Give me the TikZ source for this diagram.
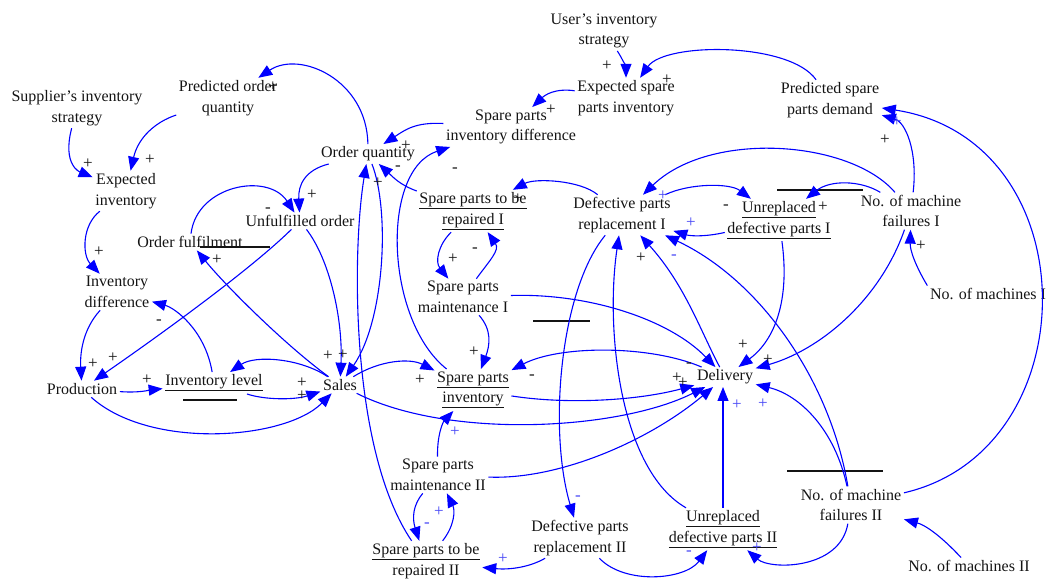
\documentclass[tikz,border=0pt]{standalone}
\usepackage{fontspec}
\setmainfont{Liberation Serif}
\usetikzlibrary{arrows.meta}
\definecolor{arrblue}{RGB}{0,0,255}
\definecolor{polblue}{RGB}{70,70,245}
\definecolor{txt}{RGB}{20,20,20}
\newcommand\cldfont{\fontsize{16}{20.5}\selectfont}
\newcommand\polfont{\fontsize{17}{17}\selectfont}

\begin{document}
\begin{tikzpicture}[x=1pt,y=-1pt,
  cvar/.style={font=\cldfont,text=txt,align=center,inner sep=2.5pt},
  arr/.style={draw=arrblue,line width=1.1pt,-{Triangle[length=14pt,width=11pt]}},
  polk/.style={font=\polfont,text=txt,inner sep=0pt},
  polbl/.style={polk,text=polblue},
  stockbar/.style={line width=2.4pt,draw=txt}]
\useasboundingbox (0,0) rectangle (1046,579);

% variables
\node[cvar] (usr)   at (604,31)  {User’s inventory\\strategy};
\node[cvar] (esi)   at (626,98)  {Expected spare\\parts inventory};
\node[cvar] (psd)   at (830,100) {Predicted spare\\parts demand};
\node[cvar] (sis)   at (77,108)  {Supplier’s inventory\\strategy};
\node[cvar] (poq)   at (228,98)  {Predicted order\\quantity};
\node[cvar] (spid)  at (511,127) {Spare parts\\inventory difference};
\node[cvar] (oq)    at (368,154) {Order quantity};
\node[cvar] (ei)    at (126,191) {Expected\\inventory};
\node[cvar] (uo)    at (300,221) {Unfulfilled order};
\node[cvar] (of)    at (190,242) {Order fulfilment};
\node[cvar] (sprI)  at (473,211) {\underline{Spare parts to be}\\\underline{repaired I}};
\node[cvar] (dprI)  at (622,215) {Defective parts\\replacement I};
\node[cvar] (udpI)  at (779,220) {\underline{Unreplaced}\\\underline{defective parts I}};
\node[cvar] (nmfI)  at (911,211) {No. of machine\\failures I};
\node[cvar] (nmI)   at (988,294) {No. of machines I};
\node[cvar] (idf)   at (117,292) {Inventory\\difference};
\node[cvar] (spmI)  at (463,297) {Spare parts\\maintenance I};
\node[cvar] (prod)  at (82,389)  {Production};
\node[cvar] (il)    at (214,383) {\underline{Inventory level}};
\node[cvar] (sales) at (340,385) {Sales};
\node[cvar] (spi)   at (473,390) {\underline{Spare parts}\\\underline{inventory}};
\node[cvar] (del)   at (725,377) {Delivery};
\node[cvar] (spmII) at (438,475) {Spare parts\\maintenance II};
\node[cvar] (nmfII) at (851,505) {No. of machine\\failures II};
\node[cvar] (sprII) at (426,562) {\underline{Spare parts to be}\\\underline{repaired II}};
\node[cvar] (dprII) at (580,538) {Defective parts\\replacement II};
\node[cvar] (udpII) at (723,529) {\underline{Unreplaced}\\\underline{defective parts II}};
\node[cvar] (nmII)  at (969,566) {No. of machines II};

% stock bars
\draw[stockbar] (200,247) -- (270,247);
\draw[stockbar] (183,400) -- (237,400);
\draw[stockbar] (533,321) -- (590,321);
\draw[stockbar] (777,190) -- (863,190);
\draw[stockbar] (787,471) -- (883,471);

% causal links
\draw[arr] (usr) .. controls (622,58) and (626,68) .. (esi);
\draw[arr] (psd) .. controls (790,42) and (665,42) .. (esi);
\draw[arr] (esi) .. controls (555,88) and (545,95) .. (spid);
\draw[arr] (spid) .. controls (415,122) and (405,130) .. (oq);
\draw[arr] (oq) .. controls (367,80) and (300,50) .. (poq);
\draw[arr] (poq) .. controls (155,122) and (138,138) .. (ei);
\draw[arr] (sis) .. controls (62,165) and (80,172) .. (ei);
\draw[arr] (oq) .. controls (305,170) and (298,185) .. (uo);
\draw[arr] (of) .. controls (197,185) and (268,172) .. (uo);
\draw[arr] (ei) .. controls (82,225) and (82,255) .. (idf);
\draw[arr] (uo) .. controls (250,270) and (160,335) .. (prod);
\draw[arr] (uo) .. controls (330,260) and (343,320) .. (sales);
\draw[arr] (oq) .. controls (390,210) and (385,320) .. (sales);
\draw[arr] (sprII) .. controls (350,450) and (352,250) .. (oq);
\draw[arr] (sales) .. controls (285,345) and (225,285) .. (of);
\draw[arr] (il) .. controls (205,330) and (175,308) .. (idf);
\draw[arr] (idf) .. controls (82,330) and (80,355) .. (prod);
\draw[arr] (prod) .. controls (140,393) and (150,390) .. (il);
\draw[arr] (sales) .. controls (300,358) and (255,355) .. (il);
\draw[arr] (il) .. controls (265,400) and (295,400) .. (sales);
\draw[arr] (prod) .. controls (150,450) and (285,440) .. (sales);
\draw[arr] (sprI) .. controls (400,185) and (393,177) .. (oq);
\draw[arr] (spi) .. controls (385,320) and (380,170) .. (spid);
\draw[arr] (sprI) .. controls (438,245) and (435,262) .. (spmI);
\draw[arr] (spmI) .. controls (490,260) and (500,250) .. (sprI);
\draw[arr] (spmI) .. controls (492,330) and (490,345) .. (spi);
\draw[arr] (spmI) .. controls (590,293) and (670,320) .. (del);
\draw[arr] (sales) .. controls (380,360) and (410,358) .. (spi);
\draw[arr] (sales) .. controls (450,440) and (620,430) .. (del);
\draw[arr] (spi) .. controls (570,405) and (640,400) .. (del);
\draw[arr] (del) .. controls (650,345) and (560,345) .. (spi);
\draw[arr] (spmII) .. controls (437,435) and (443,422) .. (spi);
\draw[arr] (spmII) .. controls (560,480) and (650,440) .. (del);
\draw[arr] (spmII) .. controls (413,505) and (412,518) .. (sprII);
\draw[arr] (sprII) .. controls (455,525) and (455,510) .. (spmII);
\draw[arr] (dprII) .. controls (530,567) and (510,570) .. (sprII);
\draw[arr] (dprII) .. controls (625,585) and (685,580) .. (udpII);
\draw[arr] (nmfII) .. controls (840,570) and (770,570) .. (udpII);
\draw[arr] (nmII) .. controls (940,535) and (925,525) .. (nmfII);
\draw[arr] (nmfII) .. controls (1090,450) and (1090,140) .. (psd);
\draw[arr] (nmfI) .. controls (918,150) and (905,122) .. (psd);
\draw[arr] (nmfI) .. controls (860,180) and (830,180) .. (udpI);
\draw[arr] (nmfI) .. controls (850,140) and (710,130) .. (dprI);
\draw[arr] (dprI) .. controls (690,183) and (730,183) .. (udpI);
\draw[arr] (udpI) .. controls (705,237) and (690,236) .. (dprI);
\draw[arr] (dprI) .. controls (580,180) and (535,178) .. (sprI);
\draw[arr] (dprI) .. controls (560,290) and (548,430) .. (dprII);
\draw[arr] (udpII) .. controls (620,470) and (605,330) .. (dprI);
\draw[arr] (del) .. controls (700,330) and (685,285) .. (dprI);
\draw[arr] (nmfII) .. controls (830,380) and (760,280) .. (dprI);
\draw[arr] (nmfII) .. controls (835,430) and (800,395) .. (del);
\draw[arr] (udpII) -- (udpII |- del.south);
\draw[arr] (udpI) .. controls (790,300) and (775,340) .. (del);
\draw[arr] (nmfI) .. controls (880,300) and (820,350) .. (del);
\draw[arr] (nmI.north west) .. controls (915,265) and (910,250) .. (nmfI);

% link polarities
\foreach \x/\y [count=\i] in {607/66,667/80,551/110,406/146,273/87,150/160,88/164,312/195,
  99/252,113/358,93/364,328/356,343/355,378/183,217/260,147/380,302/383,302/396,420/380,
  453/259,474/352,518/199,641/258,743/345,768/360,677/378,683/383,885/140,823/207,921/246}
  \node[polk] (pp\i) at (\x,\y) {+};
\foreach \x/\y [count=\i] in {268/210,159/322,398/168,455/170,475/250,532/377,689/365,726/207}
  \node[polk] (pm\i) at (\x,\y) {-};
\foreach \x/\y [count=\i] in {663/196,691/223,455/432,439/512,503/559,757/548,737/405,763/404,897/122}
  \node[polbl] (bp\i) at (\x,\y) {+};
\foreach \x/\y [count=\i] in {674/257,578/498,427/525,689/553}
  \node[polbl] (bm\i) at (\x,\y) {-};
\end{tikzpicture}
\end{document}
